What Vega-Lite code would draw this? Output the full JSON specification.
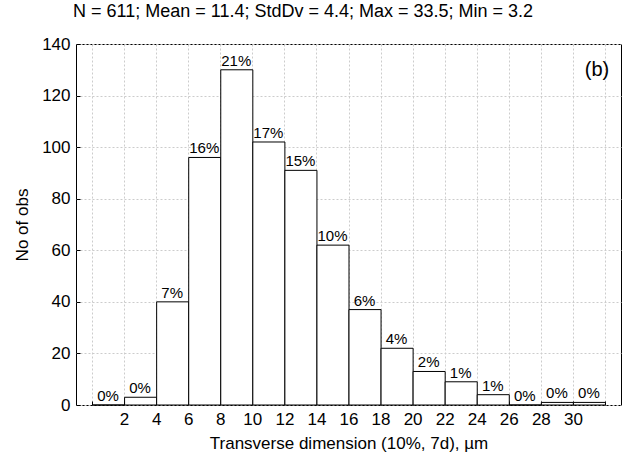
{
  "$schema": "https://vega.github.io/schema/vega-lite/v6.json",
  "width": 545,
  "height": 361,
  "autosize": {"type": "none"},
  "padding": {"left": 76, "top": 44, "right": 3, "bottom": 59},
  "background": "white",
  "config": {
    "font": "Liberation Sans",
    "view": {"stroke": "black", "strokeWidth": 1},
    "axis": {
      "labelFontSize": 17,
      "labelColor": "black",
      "titleFontSize": 17,
      "titleFontWeight": "normal",
      "titleColor": "black",
      "gridColor": "#cccccc",
      "gridDash": [2, 2],
      "tickColor": "black",
      "domainColor": "black"
    }
  },
  "title": {
    "text": "N = 611; Mean = 11.4; StdDv = 4.4; Max = 33.5; Min = 3.2",
    "anchor": "start",
    "frame": "group",
    "fontSize": 18,
    "fontWeight": "normal",
    "color": "black",
    "offset": 14,
    "dx": -3
  },
  "data": {
    "values": [
      {"lo": 0, "hi": 2, "mid": 1, "n": 0, "pct": "0%"},
      {"lo": 2, "hi": 4, "mid": 3, "n": 3, "pct": "0%"},
      {"lo": 4, "hi": 6, "mid": 5, "n": 40, "pct": "7%"},
      {"lo": 6, "hi": 8, "mid": 7, "n": 96, "pct": "16%"},
      {"lo": 8, "hi": 10, "mid": 9, "n": 130, "pct": "21%"},
      {"lo": 10, "hi": 12, "mid": 11, "n": 102, "pct": "17%"},
      {"lo": 12, "hi": 14, "mid": 13, "n": 91, "pct": "15%"},
      {"lo": 14, "hi": 16, "mid": 15, "n": 62, "pct": "10%"},
      {"lo": 16, "hi": 18, "mid": 17, "n": 37, "pct": "6%"},
      {"lo": 18, "hi": 20, "mid": 19, "n": 22, "pct": "4%"},
      {"lo": 20, "hi": 22, "mid": 21, "n": 13, "pct": "2%"},
      {"lo": 22, "hi": 24, "mid": 23, "n": 9, "pct": "1%"},
      {"lo": 24, "hi": 26, "mid": 25, "n": 4, "pct": "1%"},
      {"lo": 26, "hi": 28, "mid": 27, "n": 0, "pct": "0%"},
      {"lo": 28, "hi": 30, "mid": 29, "n": 1, "pct": "0%"},
      {"lo": 30, "hi": 32, "mid": 31, "n": 1, "pct": "0%"}
    ]
  },
  "layer": [
    {
      "mark": {"type": "bar", "fill": "white", "stroke": "black", "strokeWidth": 1, "binSpacing": 0},
      "encoding": {
        "x": {
          "field": "lo",
          "type": "quantitative",
          "bin": "binned",
          "scale": {"domain": [-1, 33], "nice": false, "zero": false},
          "axis": {
            "values": [0, 2, 4, 6, 8, 10, 12, 14, 16, 18, 20, 22, 24, 26, 28, 30, 32],
            "labelExpr": "datum.value == 0 || datum.value == 32 ? '' : datum.label",
            "labelOverlap": false,
            "labelFlush": false,
            "grid": true,
            "domain": false,
            "tickSize": -4,
            "labelPadding": 10,
            "title": "Transverse dimension (10%, 7d), µm",
            "titlePadding": 8
          }
        },
        "x2": {"field": "hi"},
        "y": {
          "field": "n",
          "type": "quantitative",
          "scale": {"domain": [0, 140], "nice": false},
          "axis": {
            "values": [0, 20, 40, 60, 80, 100, 120, 140],
            "grid": true,
            "domain": false,
            "tickSize": -4,
            "labelPadding": 10,
            "title": "No of obs",
            "titlePadding": 10
          }
        }
      }
    },
    {
      "mark": {"type": "text", "baseline": "bottom", "dy": -1, "fontSize": 15, "color": "black"},
      "encoding": {
        "x": {
          "field": "mid",
          "type": "quantitative",
          "axis": {
            "values": [0, 2, 4, 6, 8, 10, 12, 14, 16, 18, 20, 22, 24, 26, 28, 30, 32],
            "labelExpr": "datum.value == 0 || datum.value == 32 ? '' : datum.label",
            "labelOverlap": false,
            "labelFlush": false,
            "grid": true,
            "domain": false,
            "tickSize": -4,
            "labelPadding": 10,
            "title": "Transverse dimension (10%, 7d), µm",
            "titlePadding": 8
          }
        },
        "y": {
          "field": "n",
          "type": "quantitative",
          "axis": {
            "values": [0, 20, 40, 60, 80, 100, 120, 140],
            "grid": true,
            "domain": false,
            "tickSize": -4,
            "labelPadding": 10,
            "title": "No of obs",
            "titlePadding": 10
          }
        },
        "text": {"field": "pct"}
      }
    },
    {
      "data": {"values": [{"label": "(b)", "px": 31.5, "py": 130}]},
      "mark": {"type": "text", "fontSize": 20, "color": "black"},
      "encoding": {
        "x": {
          "field": "px",
          "type": "quantitative",
          "axis": {
            "values": [0, 2, 4, 6, 8, 10, 12, 14, 16, 18, 20, 22, 24, 26, 28, 30, 32],
            "labelExpr": "datum.value == 0 || datum.value == 32 ? '' : datum.label",
            "labelOverlap": false,
            "labelFlush": false,
            "grid": true,
            "domain": false,
            "tickSize": -4,
            "labelPadding": 10,
            "title": "Transverse dimension (10%, 7d), µm",
            "titlePadding": 8
          }
        },
        "y": {
          "field": "py",
          "type": "quantitative",
          "axis": {
            "values": [0, 20, 40, 60, 80, 100, 120, 140],
            "grid": true,
            "domain": false,
            "tickSize": -4,
            "labelPadding": 10,
            "title": "No of obs",
            "titlePadding": 10
          }
        },
        "text": {"field": "label"}
      }
    }
  ]
}
